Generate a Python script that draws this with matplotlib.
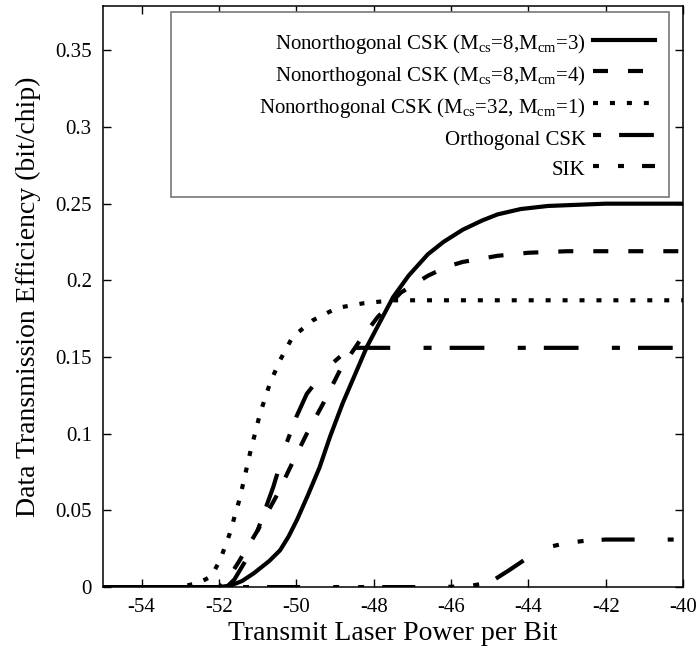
import numpy as np
import matplotlib
matplotlib.use("Agg")
import matplotlib.pyplot as plt
from matplotlib.patches import Rectangle
from matplotlib.ticker import FormatStrFormatter

plt.rcParams['font.family'] = ['Liberation Serif', 'DejaVu Serif']
plt.rcParams['mathtext.fontset'] = 'custom'
plt.rcParams['mathtext.rm'] = 'Liberation Serif'
plt.rcParams['lines.scale_dashes'] = False
plt.rcParams['axes.unicode_minus'] = False

# Nonorthogonal CSK (Mcs=8, Mcm=3)
x_cm3 = [-55, -52, -51.7, -51.4, -51.1, -50.7, -50.42, -50.2, -49.98, -49.7, -49.4,
         -49.13, -48.8, -48.17, -47.5, -47.1, -46.6, -46.2, -45.7, -45.2, -44.8, -44.2,
         -43.5, -42, -40]
y_cm3 = [0, 0, 0.001, 0.004, 0.009, 0.017, 0.024, 0.033, 0.044, 0.06, 0.078,
         0.098, 0.12, 0.157, 0.189, 0.203, 0.217, 0.225, 0.233, 0.239, 0.243, 0.2465,
         0.2485, 0.25, 0.25]

# Nonorthogonal CSK (Mcs=8, Mcm=4)
x_cm4 = [-55, -52, -51.8, -51.5, -51.0, -50.5, -50.16, -49.73, -49.3, -48.87, -48.35,
         -47.9, -47.3, -46.6, -46.1, -45.7, -44.8, -44, -43, -40]
y_cm4 = [0, 0, 0.004, 0.016, 0.037, 0.06, 0.078, 0.1, 0.12, 0.1415, 0.161,
         0.176, 0.192, 0.203, 0.209, 0.212, 0.216, 0.218, 0.219, 0.219]

# Nonorthogonal CSK (Mcs=32, Mcm=1)
x_cs32 = [-55, -53, -52.5, -52.2, -51.97, -51.72, -51.46, -51.2, -50.94, -50.68, -50.42,
          -50.1, -49.57, -48.95, -48.28, -47.5, -40]
y_cs32 = [0, 0, 0.003, 0.007, 0.0176, 0.035, 0.058, 0.087, 0.113, 0.133, 0.148,
          0.163, 0.174, 0.182, 0.185, 0.187, 0.187]

# Orthogonal CSK
x_orth = [-55, -51.8, -51.6, -51.2, -51.0, -50.6, -50.25, -50.0, -49.73, -49.2, -48.7, -48.5, -40]
y_orth = [0, 0, 0.005, 0.022, 0.037, 0.065, 0.094, 0.111, 0.126, 0.143, 0.154, 0.156, 0.156]

# SIK
x_sik = [-55, -46.5, -46, -45.5, -45, -44.5, -44, -43.5, -43, -42.5, -42, -40]
y_sik = [0, 0, 0.0002, 0.0008, 0.003, 0.011, 0.0195, 0.026, 0.0288, 0.0303, 0.031, 0.031]

labels = [r'Nonorthogonal CSK (M$_{\rm cs}$=8,M$_{\rm cm}$=3)',
          r'Nonorthogonal CSK (M$_{\rm cs}$=8,M$_{\rm cm}$=4)',
          r'Nonorthogonal CSK (M$_{\rm cs}$=32, M$_{\rm cm}$=1)',
          'Orthogonal CSK',
          'SIK']

fig = plt.figure(figsize=(7, 6.48), dpi=100)
ax = fig.add_axes([0.147, 0.094, 0.829, 0.897])

lw = 3
ax.plot(x_cm3, y_cm3, color='black', lw=lw, label=labels[0])
ax.plot(x_cm4, y_cm4, color='black', lw=lw, dashes=(10.8, 14.4), label=labels[1])
ax.plot(x_cs32, y_cs32, color='black', lw=lw, dashes=(3.6, 8.6), label=labels[2])
ax.plot(x_orth, y_orth, color='black', lw=lw, dashes=(5.8, 13, 25, 24), label=labels[3])
ax.plot(x_sik, y_sik, color='black', lw=lw, dashes=(4.3, 13.7, 4.3, 13, 23.8, 23.8), label=labels[4])

ax.set_xlim(-55, -40)
ax.set_ylim(0, 0.379)
ax.set_xticks(np.arange(-54, -39, 2))
ax.set_yticks(np.arange(0, 0.36, 0.05))
ax.yaxis.set_major_formatter(FormatStrFormatter('%g'))
ax.tick_params(direction='in', length=6, width=1, top=True, right=True, labelsize=15)
ax.tick_params(axis='x', pad=8)
ax.tick_params(axis='y', pad=8)
for s in ax.spines.values():
    s.set_linewidth(1.1)

ax.set_xlabel('Transmit Laser Power per Bit', fontsize=20, labelpad=3)
ax.set_ylabel('Data Transmission Efficiency (bit/chip)', fontsize=20, labelpad=10)

# legend frame (gnuplot style, wider than its entries)
ax.add_patch(Rectangle((0.117, 0.671), 0.859, 0.319, transform=ax.transAxes,
                       facecolor='white', edgecolor='#777777', lw=1.2, zorder=4))
leg = ax.legend(loc='upper right', bbox_to_anchor=(0.952, 0.9585), borderaxespad=0,
                borderpad=0, frameon=False, markerfirst=False, fontsize=15,
                handlelength=3.0, handletextpad=0.35, labelspacing=0.27,
                handleheight=1.45)
leg.set_zorder(5)

fig.savefig('out.png', dpi=100)
